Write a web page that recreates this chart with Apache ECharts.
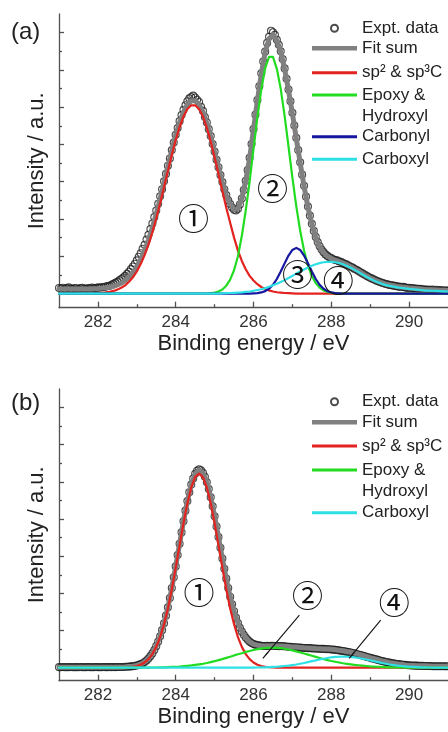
<!DOCTYPE html>
<html><head><meta charset="utf-8">
<script src="https://cdn.jsdelivr.net/npm/echarts@6/dist/echarts.min.js"></script>
<style>html,body{margin:0;padding:0;background:#fff}#c{width:448px;height:732px}</style>
</head><body><div id="c"></div>
<script>
// ---------- tick values ----------
const xMajorTicks = [282, 284, 286, 288, 290];
const xMinorTicks = [283, 285, 287, 289];
const yMajorTicks = [0, 2, 4, 6, 8, 10, 12, 14];
const yMinorTicks = [1, 3, 5, 7, 9, 11, 13];

// ---------- energies (eV) ----------
const energy = [
281.0,281.1,281.2,281.3,281.4,281.5,281.6,281.7,281.8,281.9,
282.0,282.1,282.2,282.3,282.4,282.5,282.6,282.7,282.8,282.9,
283.0,283.1,283.2,283.3,283.4,283.5,283.6,283.7,283.8,283.9,
284.0,284.1,284.2,284.3,284.4,284.5,284.6,284.7,284.8,284.9,
285.0,285.1,285.2,285.3,285.4,285.5,285.6,285.7,285.8,285.9,
286.0,286.1,286.2,286.3,286.4,286.5,286.6,286.7,286.8,286.9,
287.0,287.1,287.2,287.3,287.4,287.5,287.6,287.7,287.8,287.9,
288.0,288.1,288.2,288.3,288.4,288.5,288.6,288.7,288.8,288.9,
289.0,289.1,289.2,289.3,289.4,289.5,289.6,289.7,289.8,289.9,
290.0,290.1,290.2,290.3,290.4,290.5,290.6,290.7,290.8,290.9,
291.0];
const energyExpt = [
281.00,281.05,281.10,281.15,281.20,281.25,281.30,281.35,281.40,281.45,281.50,281.55,281.60,281.65,281.70,281.75,281.80,281.85,281.90,281.95,
282.00,282.05,282.10,282.15,282.20,282.25,282.30,282.35,282.40,282.45,282.50,282.55,282.60,282.65,282.70,282.75,282.80,282.85,282.90,282.95,
283.00,283.05,283.10,283.15,283.20,283.25,283.30,283.35,283.40,283.45,283.50,283.55,283.60,283.65,283.70,283.75,283.80,283.85,283.90,283.95,
284.00,284.05,284.10,284.15,284.20,284.25,284.30,284.35,284.40,284.45,284.50,284.55,284.60,284.65,284.70,284.75,284.80,284.85,284.90,284.95,
285.00,285.05,285.10,285.15,285.20,285.25,285.30,285.35,285.40,285.45,285.50,285.55,285.60,285.65,285.70,285.75,285.80,285.85,285.90,285.95,
286.00,286.05,286.10,286.15,286.20,286.25,286.30,286.35,286.40,286.45,286.50,286.55,286.60,286.65,286.70,286.75,286.80,286.85,286.90,286.95,
287.00,287.05,287.10,287.15,287.20,287.25,287.30,287.35,287.40,287.45,287.50,287.55,287.60,287.65,287.70,287.75,287.80,287.85,287.90,287.95,
288.00,288.05,288.10,288.15,288.20,288.25,288.30,288.35,288.40,288.45,288.50,288.55,288.60,288.65,288.70,288.75,288.80,288.85,288.90,288.95,
289.00,289.05,289.10,289.15,289.20,289.25,289.30,289.35,289.40,289.45,289.50,289.55,289.60,289.65,289.70,289.75,289.80,289.85,289.90,289.95,
290.00,290.05,290.10,290.15,290.20,290.25,290.30,290.35,290.40,290.45,290.50,290.55,290.60,290.65,290.70,290.75,290.80,290.85,290.90,290.95,
291.00];

// ---------- panel (a) ----------
const exptA = [
.30,.27,.31,.26,.29,.33,.27,.25,.30,.28,.24,.29,.31,.27,.26,.30,.28,.32,.29,.30,
.33,.31,.35,.34,.38,.40,.42,.47,.52,.58,.63,.71,.78,.86,.95,1.06,1.17,1.31,1.45,1.60,
1.78,1.97,2.16,2.40,2.62,2.90,3.15,3.46,3.76,4.10,4.45,4.82,5.22,5.60,6.02,6.42,6.86,7.25,7.70,8.10,
8.52,8.88,9.25,9.58,9.86,10.10,10.32,10.48,10.55,10.62,10.52,10.40,10.28,10.02,9.80,9.47,9.18,8.82,8.45,8.02,
7.62,7.18,6.78,6.36,5.98,5.60,5.28,5.00,4.80,4.62,4.50,4.46,4.55,4.78,5.10,5.55,6.05,6.62,7.28,8.02,
8.82,9.60,10.38,11.12,11.82,12.45,12.98,13.45,13.78,14.10,14.02,13.88,13.62,13.35,13.00,12.58,12.08,11.52,10.95,10.32,
9.70,9.02,8.36,7.70,7.04,6.38,5.78,5.20,4.67,4.18,3.74,3.36,3.04,2.76,2.54,2.36,2.22,2.10,2.02,1.95,
1.90,1.84,1.80,1.78,1.72,1.70,1.63,1.60,1.55,1.49,1.44,1.39,1.32,1.27,1.21,1.14,1.08,1.02,0.96,0.90,
0.85,0.80,0.75,0.70,0.66,0.62,0.58,0.55,0.51,0.49,0.46,0.45,0.42,0.41,0.38,0.37,0.35,0.36,0.33,0.30,
0.31,0.28,0.29,0.26,0.27,0.24,0.25,0.22,0.23,0.20,0.22,0.19,0.21,0.18,0.20,0.17,0.19,0.16,0.18,0.15,
0.17];
const fitA = [
.25,.25,.25,.25,.25,.25,.25,.25,.25,.26,
.27,.29,.31,.34,.39,.46,.56,.69,.88,1.12,
1.44,1.83,2.31,2.87,3.54,4.28,5.09,5.95,6.83,7.69,
8.49,9.18,9.75,10.14,10.34,10.34,10.13,9.73,9.15,8.41,
7.58,6.74,5.96,5.26,4.80,4.51,4.56,5.12,6.05,7.26,
8.81,10.35,11.78,12.95,13.67,13.89,13.59,12.98,12.04,10.91,
9.65,8.32,7.01,5.74,4.63,3.71,3.01,2.51,2.20,2.00,
1.88,1.79,1.72,1.63,1.54,1.44,1.32,1.20,1.07,0.95,
0.84,0.74,0.65,0.57,0.50,0.46,0.42,0.38,0.35,0.33,
0.30,0.28,0.26,0.24,0.22,0.21,0.20,0.19,0.18,0.17,
0.16];
const spA = [
0,0,0,0,0,0,0,0,0,0.01,
0.02,0.04,0.06,0.09,0.14,0.21,0.31,0.44,0.63,0.87,
1.19,1.58,2.06,2.62,3.29,4.03,4.84,5.70,6.58,7.44,
8.24,8.93,9.50,9.90,10.10,10.10,9.90,9.50,8.90,8.15,
7.30,6.40,5.50,4.60,3.80,3.00,2.30,1.75,1.30,0.95,
0.70,0.50,0.35,0.25,0.17,0.11,0.07,0.05,0.03,0.02,
0.01,0,0,0,0,0,0,0,0,0,
0,0,0,0,0,0,0,0,0,0,
0,0,0,0,0,0,0,0,0,0,
0,0,0,0,0,0,0,0,0,0,
0];
const epoxyA = [
0,0,0,0,0,0,0,0,0,0,
0,0,0,0,0,0,0,0,0,0,
0,0,0,0,0,0,0,0,0,0,
0,0,0,0,0,0,0,0,0,0.02,
0.05,0.11,0.22,0.42,0.75,1.25,2.00,3.10,4.45,6.00,
7.75,9.45,10.95,12.10,12.70,12.70,12.06,10.98,9.53,7.89,
6.22,4.68,3.37,2.30,1.50,0.94,0.56,0.32,0.17,0.09,
0.04,0.02,0,0,0,0,0,0,0,0,
0,0,0,0,0,0,0,0,0,0,
0,0,0,0,0,0,0,0,0,0,
0];
const carbonylA = [
0,0,0,0,0,0,0,0,0,0,
0,0,0,0,0,0,0,0,0,0,
0,0,0,0,0,0,0,0,0,0,
0,0,0,0,0,0,0,0,0,0,
0,0,0,0,0,0,0,0,0,0,
0.01,0.02,0.06,0.13,0.26,0.47,0.78,1.18,1.62,2.04,
2.34,2.45,2.34,2.04,1.62,1.18,0.78,0.47,0.26,0.13,
0.06,0.02,0.01,0,0,0,0,0,0,0,
0,0,0,0,0,0,0,0,0,0,
0,0,0,0,0,0,0,0,0,0,
0];
const carboxylA = [
0,0,0,0,0,0,0,0,0,0,
0,0,0,0,0,0,0,0,0,0,
0,0,0,0,0,0,0,0,0,0,
0,0,0,0,0,0,0,0,0,0,
0,0,0.01,0.02,0.03,0.04,0.05,0.06,0.09,0.11,
0.15,0.19,0.23,0.29,0.36,0.44,0.52,0.62,0.72,0.83,
0.95,1.07,1.18,1.29,1.40,1.49,1.57,1.63,1.68,1.70,
1.70,1.68,1.64,1.57,1.48,1.38,1.27,1.15,1.02,0.90,
0.79,0.69,0.60,0.52,0.45,0.41,0.37,0.33,0.30,0.28,
0.25,0.23,0.21,0.19,0.17,0.16,0.15,0.14,0.13,0.12,
0.11];

// ---------- panel (b) ----------
const exptB = [
.03,.02,.04,.03,.02,.03,.04,.02,.03,.03,.02,.04,.03,.02,.03,.04,.03,.02,.03,.04,
.03,.02,.03,.04,.03,.03,.04,.03,.04,.03,.04,.04,.04,.04,.05,.05,.06,.07,.08,.10,
.12,.15,.19,.24,.31,.39,.49,.62,.77,.95,1.16,1.41,1.69,2.02,2.39,2.80,3.25,3.75,4.29,4.86,
5.45,6.06,6.67,7.28,7.88,8.45,8.97,9.44,9.85,10.18,10.43,10.60,10.67,10.62,10.49,10.27,9.98,9.61,9.17,8.68,
8.15,7.60,7.03,6.45,5.87,5.32,4.79,4.29,3.82,3.41,3.04,2.70,2.40,2.15,1.94,1.77,1.62,1.50,1.40,1.33,
1.27,1.24,1.21,1.20,1.18,1.17,1.17,1.18,1.17,1.18,1.18,1.17,1.17,1.16,1.17,1.16,1.15,1.14,1.13,1.12,
1.11,1.10,1.10,1.09,1.08,1.07,1.06,1.06,1.05,1.05,1.04,1.03,1.03,1.02,1.02,1.01,1.01,1.00,1.00,0.99,
0.98,0.97,0.96,0.95,0.93,0.91,0.90,0.88,0.86,0.84,0.82,0.79,0.77,0.74,0.71,0.68,0.65,0.62,0.59,0.56,
0.53,0.50,0.48,0.45,0.42,0.39,0.36,0.34,0.31,0.29,0.27,0.25,0.23,0.21,0.20,0.19,0.17,0.16,0.15,0.14,
0.13,0.12,0.12,0.11,0.11,0.10,0.10,0.10,0.09,0.09,0.09,0.09,0.08,0.08,0.08,0.08,0.08,0.08,0.08,0.08,
0.08];
const fitB = [
.03,.03,.03,.03,.03,.03,.03,.03,.03,.03,
.03,.03,.03,.03,.03,.03,.03,.04,.06,.08,
.12,.19,.31,.49,.77,1.16,1.69,2.39,3.25,4.29,
5.45,6.67,7.88,8.97,9.85,10.43,10.65,10.49,9.98,9.17,
8.15,7.03,5.87,4.79,3.82,3.04,2.40,1.94,1.62,1.40,
1.27,1.21,1.18,1.17,1.17,1.18,1.17,1.17,1.16,1.14,
1.12,1.11,1.09,1.07,1.06,1.05,1.03,1.02,1.01,1.00,
.99,.97,.94,.91,.87,.84,.79,.73,.67,.61,
.54,.49,.43,.37,.32,.27,.24,.20,.18,.15,
.13,.12,.11,.10,.10,.09,.08,.08,.08,.08,
.08];
const spB = [
0,0,0,0,0,0,0,0,0,0,
0,0,0,0,0,0,0,0.01,0.03,0.05,
0.09,0.16,0.28,0.46,0.73,1.12,1.64,2.34,3.19,4.22,
5.37,6.58,7.77,8.84,9.70,10.25,10.44,10.25,9.70,8.84,
7.77,6.58,5.37,4.22,3.19,2.34,1.64,1.12,0.73,0.46,
0.28,0.16,0.09,0.05,0.03,0.01,0,0,0,0,
0,0,0,0,0,0,0,0,0,0,
0,0,0,0,0,0,0,0,0,0,
0,0,0,0,0,0,0,0,0,0,
0,0,0,0,0,0,0,0,0,0,
0];
const epoxyB = [
0,0,0,0,0,0,0,0,0,0,
0,0,0,0,0,0,0,0,0,0,
0,0,0,0,0.01,0.01,0.02,0.02,0.03,0.04,
0.05,0.06,0.08,0.10,0.12,0.15,0.18,0.21,0.25,0.30,
0.35,0.41,0.46,0.53,0.59,0.66,0.72,0.78,0.85,0.90,
0.95,1.00,1.03,1.06,1.07,1.08,1.07,1.05,1.02,0.98,
0.93,0.88,0.82,0.76,0.70,0.64,0.58,0.52,0.46,0.41,
0.36,0.32,0.28,0.24,0.21,0.18,0.15,0.13,0.11,0.09,
0.07,0.06,0.05,0.04,0.03,0.02,0.02,0.01,0.01,0,
0,0,0,0,0,0,0,0,0,0,
0];
const carboxylB = [
0,0,0,0,0,0,0,0,0,0,
0,0,0,0,0,0,0,0,0,0,
0,0,0,0,0,0,0,0,0,0,
0,0,0,0,0,0,0,0,0,0,
0,0,0,0,0,0,0,0,0,0,
0,0.01,0.02,0.02,0.03,0.04,0.05,0.07,0.09,0.11,
0.14,0.17,0.21,0.25,0.30,0.35,0.39,0.44,0.48,0.52,
0.56,0.58,0.59,0.60,0.59,0.58,0.56,0.52,0.48,0.44,
0.39,0.35,0.30,0.25,0.21,0.17,0.14,0.11,0.09,0.07,
0.05,0.04,0.03,0.02,0.02,0.01,0,0,0,0,
0];

// ---------- annotations (data coordinates) ----------
const peakLabelsA = [
  {t: '①', e: 284.46, k: 4.06},
  {t: '②', e: 286.49, k: 5.67},
  {t: '③', e: 287.13, k: 1.05},
  {t: '④', e: 288.18, k: 0.73}
];
const peakLabelsB = [
  {t: '①', e: 284.60, k: 4.04},
  {t: '②', e: 287.39, k: 3.90},
  {t: '④', e: 289.62, k: 3.54}
];
const arrowsB = [
  {from: [287.18, 2.83], to: [286.24, 0.50]},
  {from: [289.27, 2.56], to: [288.46, 0.50]}
];

// ---------- names & styles ----------
const NAME_EXPT = 'Expt. data', NAME_FIT = 'Fit sum', NAME_SP = 'sp² & sp³C',
      NAME_EPOXY = 'Epoxy & Hydroxyl', NAME_CARBONYL = 'Carbonyl', NAME_CARBOXYL = 'Carboxyl';
const COLORS = {};
COLORS[NAME_EXPT] = '#1e1e1e';
COLORS[NAME_FIT] = '#808080';
COLORS[NAME_SP] = '#e3231f';
COLORS[NAME_EPOXY] = '#22dc22';
COLORS[NAME_CARBONYL] = '#16169e';
COLORS[NAME_CARBOXYL] = '#2ee0e6';
const FONT = "'Liberation Sans', Arial, sans-serif";
const AXIS = '#505050';
const TXT = '#222';

const pairs = (xs, ys) => xs.map((x, i) => [x, ys[i]]);

function mainX(g) {
  return {type: 'value', gridIndex: g, min: 281, max: 291, position: 'bottom', offset: 0,
    axisLine: {show: true, onZero: false, lineStyle: {color: AXIS, width: 1.3}},
    axisTick: {show: true, inside: true, length: 6, customValues: xMajorTicks, lineStyle: {color: AXIS, width: 1.3}},
    axisLabel: {show: true, inside: false, customValues: xMajorTicks, margin: 6, fontSize: 17, color: '#333', fontFamily: FONT},
    splitLine: {show: false},
    name: 'Binding energy / eV', nameLocation: 'middle', nameGap: 25,
    nameTextStyle: {fontSize: 22, color: TXT, fontFamily: FONT}};
}
function minorX(g) {
  return {type: 'value', gridIndex: g, min: 281, max: 291, position: 'bottom', offset: 0,
    axisLine: {show: false, onZero: false},
    axisTick: {show: true, inside: true, length: 3.5, customValues: xMinorTicks, lineStyle: {color: AXIS, width: 1.3}},
    axisLabel: {show: false}, splitLine: {show: false}};
}
function mainY(g, mn, mx) {
  return {type: 'value', gridIndex: g, min: mn, max: mx, position: 'left', offset: 0,
    axisLine: {show: true, onZero: false, lineStyle: {color: AXIS, width: 1.3}},
    axisTick: {show: true, inside: true, length: 5, customValues: yMajorTicks, lineStyle: {color: AXIS, width: 1.3}},
    axisLabel: {show: false}, splitLine: {show: false},
    name: 'Intensity / a.u.', nameLocation: 'middle', nameGap: 11, nameRotate: 90,
    nameTextStyle: {fontSize: 22, color: TXT, fontFamily: FONT}};
}
function minorY(g, mn, mx) {
  return {type: 'value', gridIndex: g, min: mn, max: mx, position: 'left', offset: 0,
    axisLine: {show: false, onZero: false},
    axisTick: {show: true, inside: true, length: 3, customValues: yMinorTicks, lineStyle: {color: AXIS, width: 1.3}},
    axisLabel: {show: false}, splitLine: {show: false}};
}

function exptSeries(xi, yi, ys) {
  return {type: 'scatter', name: NAME_EXPT, xAxisIndex: xi, yAxisIndex: yi,
    data: pairs(energyExpt, ys), symbol: 'circle', symbolSize: 7,
    itemStyle: {color: 'rgba(0,0,0,0)', borderColor: COLORS[NAME_EXPT], borderWidth: 1.1},
    silent: true, z: 1};
}
function lineSeries(name, xi, yi, ys, width, extra) {
  return Object.assign({type: 'line', name: name, xAxisIndex: xi, yAxisIndex: yi,
    data: pairs(energy, ys), showSymbol: false, symbol: 'none', smooth: false,
    color: COLORS[name],
    lineStyle: {color: COLORS[name], width: width, join: 'round', cap: 'round'},
    itemStyle: {color: COLORS[name]}, silent: true, z: 2}, extra || {});
}
function peakMarks(list) {
  return {symbol: 'circle', symbolSize: 2, silent: true, animation: false,
    itemStyle: {color: 'rgba(0,0,0,0)'},
    label: {show: true, position: 'inside', formatter: '{b}', fontSize: 31, color: '#111',
      fontFamily: "'Noto Sans CJK JP', 'DejaVu Sans', sans-serif"},
    data: list.map(p => ({name: p.t, coord: [p.e, p.k]}))};
}

// legend rows: [name, centre y of the row in px]
const legendRowsA = [[NAME_EXPT, 28.3], [NAME_FIT, 48.3], [NAME_SP, 72.7], [NAME_EPOXY, 95], [NAME_CARBONYL, 136.7], [NAME_CARBOXYL, 159.3]];
const legendRowsB = [[NAME_EXPT, 401.7], [NAME_FIT, 422.3], [NAME_SP, 446], [NAME_EPOXY, 470], [NAME_CARBOXYL, 512.7]];

function legendFor(name, cy) {
  const base = {left: 312, padding: 0, itemWidth: 45, selectedMode: false, orient: 'vertical',
    textStyle: {fontSize: 17, lineHeight: 21, color: TXT, fontFamily: FONT}};
  let item, h, top = cy - 10.5;
  if (name === NAME_EXPT) {
    h = 7; base.left = 330;
    item = {name: name, icon: 'emptyCircle', itemStyle: {color: COLORS[name], borderWidth: 0}};
  } else {
    h = (name === NAME_FIT) ? 4.5 : 3;
    item = {name: name, icon: 'rect', itemStyle: {color: COLORS[name], borderWidth: 0}};
  }
  if (name === NAME_EPOXY) {
    // first row kept empty so that "Epoxy &" sits level with the icon
    base.formatter = n => '\n' + n.replace(' & ', ' &\n');
    top = cy - 31.5;
  }
  return Object.assign(base, {top: top, itemHeight: h, data: [item]});
}

const legends = legendRowsA.map(r => legendFor(r[0], r[1])).concat(legendRowsB.map(r => legendFor(r[0], r[1])));

const option = {
  animation: false,
  backgroundColor: '#fff',
  title: [
    {text: '(a)', left: 11, top: 20, padding: 0, textStyle: {fontSize: 24, fontWeight: 'normal', color: TXT, fontFamily: FONT}},
    {text: '(b)', left: 11, top: 391, padding: 0, textStyle: {fontSize: 24, fontWeight: 'normal', color: TXT, fontFamily: FONT}}
  ],
  legend: legends,
  grid: [
    {left: 59, top: 14, width: 389, height: 293.7, outerBoundsMode: 'none', containLabel: false},
    {left: 59, top: 388.9, width: 389, height: 291.8, outerBoundsMode: 'none', containLabel: false}
  ],
  xAxis: [mainX(0), minorX(0), mainX(1), minorX(1)],
  yAxis: [mainY(0, -0.76, 15), minorY(0, -0.76, 15), mainY(1, -0.70, 15), minorY(1, -0.70, 15)],
  series: [
    exptSeries(0, 0, exptA),
    lineSeries(NAME_FIT, 0, 0, fitA, 5, {markPoint: peakMarks(peakLabelsA)}),
    lineSeries(NAME_SP, 0, 0, spA, 2.2),
    lineSeries(NAME_EPOXY, 0, 0, epoxyA, 2.2),
    lineSeries(NAME_CARBONYL, 0, 0, carbonylA, 2.2),
    lineSeries(NAME_CARBOXYL, 0, 0, carboxylA, 2.2),

    exptSeries(2, 2, exptB),
    lineSeries(NAME_FIT, 2, 2, fitB, 5, {
      markPoint: peakMarks(peakLabelsB),
      markLine: {silent: true, animation: false, symbol: ['none', 'arrow'], symbolSize: [1, 9],
        label: {show: false}, lineStyle: {color: '#111', width: 1.1, type: 'solid'},
        data: arrowsB.map(a => [{coord: a.from}, {coord: a.to}])}
    }),
    lineSeries(NAME_SP, 2, 2, spB, 2.2),
    lineSeries(NAME_EPOXY, 2, 2, epoxyB, 2.2),
    lineSeries(NAME_CARBOXYL, 2, 2, carboxylB, 2.2)
  ]
};

const chart = echarts.init(document.getElementById('c'), null, {renderer: 'canvas'});
chart.setOption(option);
</script>
</body></html>
